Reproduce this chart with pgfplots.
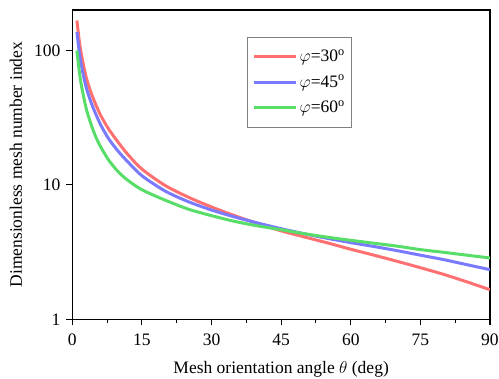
\documentclass[border=0pt]{standalone}
\usepackage{fontspec}
\setmainfont{Liberation Serif}
\usepackage{pgfplots}
\pgfplotsset{compat=1.18}
\definecolor{cred}{RGB}{255,112,112}
\definecolor{cblue}{RGB}{122,122,255}
\definecolor{cgreen}{RGB}{88,222,104}
\begin{document}
\begin{tikzpicture}
\fontsize{17.5}{20}\selectfont
\useasboundingbox (-72.3pt,-59.7pt) rectangle (426.7pt,319.3pt);
\begin{axis}[
  at={(0pt,0pt)}, anchor=south west,
  scale only axis, width=417.7pt, height=309.3pt,
  ymode=log, xmin=0, xmax=90, ymin=1, ymax=200,
  xtick={0,15,30,45,60,75,90},
  minor x tick num=1,
  ytick={1,10,100},
  yticklabels={1,10,100},
  log basis y=10,
  axis line style={line width=1.2pt},
  every tick/.style={line width=1.1pt, black},
  tick align=outside,
  major tick length=6pt, minor tick length=3.5pt,
  xtick pos=bottom, ytick pos=left,
  /pgf/number format/assume math mode=true,
  tick label style={font=\fontsize{17.5}{20}\selectfont},
  xticklabel style={yshift=-3pt},
  label style={font=\fontsize{17.5}{20}\selectfont},
  xlabel style={yshift=-3pt},
  xlabel={Mesh orientation angle \(\theta\) (deg)},
  ylabel={Dimensionless mesh number index},
  legend style={at={(0.419,0.913)}, anchor=north west, draw=gray, line width=0.8pt,
    font=\fontsize{17.5}{20}\selectfont, row sep=7pt, inner xsep=5pt, inner ysep=10pt},
  legend cell align=left,
  legend image code/.code={\draw[#1, line width=3pt] (0pt,0pt) -- (42pt,0pt);},
]
\addplot[cred, line width=3pt, smooth] coordinates {
(1,167)(1.5,118)(2,92)(3,63)(4,49)(5,40)(6,33.5)(7,29)(8,25.5)(10,20.5)(12,16.8)(15,13.1)(20,9.9)(25,8.1)(30,6.85)(35,5.9)(40,5.15)(45,4.55)(50,4.1)(55,3.7)(60,3.32)(65,3.0)(70,2.7)(75,2.42)(80,2.16)(85,1.9)(90,1.66)};
\addlegendentry{\(\varphi\)=30\textsuperscript{o}}
\addplot[cblue, line width=3pt, smooth] coordinates {
(1,137)(1.5,98)(2,76)(3,53)(4,41.5)(5,34)(6,28.5)(7,24.6)(8,21.6)(10,17.6)(12,14.8)(15,11.7)(20,9.0)(25,7.5)(30,6.5)(35,5.77)(40,5.2)(45,4.72)(50,4.33)(55,4.0)(60,3.72)(65,3.48)(70,3.24)(75,3.0)(80,2.78)(85,2.55)(90,2.34)};
\addlegendentry{\(\varphi\)=45\textsuperscript{o}}
\addplot[cgreen, line width=3pt, smooth] coordinates {
(1,100)(1.5,70)(2,54)(3,37)(4,28.5)(5,23)(6,19.5)(7,17)(8,15)(10,12.4)(12,10.8)(15,9.2)(20,7.7)(25,6.6)(30,5.9)(35,5.35)(40,4.95)(45,4.64)(50,4.33)(55,4.08)(60,3.87)(65,3.68)(70,3.5)(75,3.3)(80,3.15)(85,3.0)(90,2.86)};
\addlegendentry{\(\varphi\)=60\textsuperscript{o}}
\end{axis}
\end{tikzpicture}
\end{document}
